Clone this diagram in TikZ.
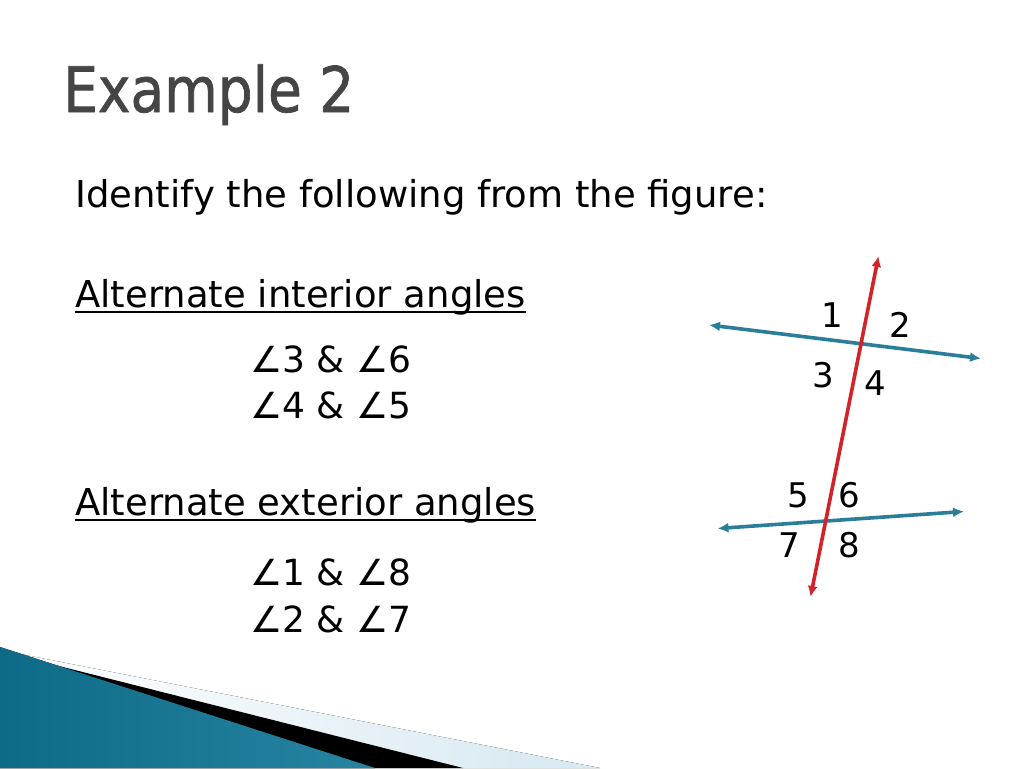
\documentclass[tikz,border=0pt]{standalone}
\usepackage{fontspec}
\setmainfont{DejaVu Sans}
\newfontfamily\titlefont[FakeBold=1.2]{DejaVu Sans}
\usepackage{tikz}
\usetikzlibrary{arrows.meta, positioning, calc}

\definecolor{transred}{HTML}{D2232A}
\definecolor{paralblue}{HTML}{2B7E99}
\definecolor{titlegray}{HTML}{454545}
\definecolor{swooshdark}{HTML}{0E6B88}
\definecolor{swooshlight}{HTML}{5FC0DE}
\definecolor{swooshpale}{HTML}{D6E8F1}

\begin{document}
\begin{tikzpicture}[
  x=1pt, y=-1pt,
  >={Latex[length=11pt, width=10pt]},
  title/.style={anchor=base west, inner sep=0pt, text=titlegray, font=\titlefont\fontsize{55}{60}\selectfont},
  bodytext/.style={anchor=base west, inner sep=0pt, font=\fontsize{37}{44}\selectfont},
  angletext/.style={anchor=base west, inner sep=0pt, font=\fontsize{36}{44}\selectfont},
  numlabel/.style={inner sep=0pt, font=\fontsize{34}{40}\selectfont},
  transversal/.style={<->, line width=3.6pt, transred},
  parallel/.style={<->, line width=3.6pt, paralblue},
  uline/.style={line width=2pt, black}
]
\useasboundingbox[fill=white] (0,0) rectangle (1024,768);

% swoosh in the lower left corner
\fill[left color=white, right color=swooshpale] (0,650) -- (600,768) -- (0,768) -- cycle;
\fill[black] (55,665) -- (463,768) -- (0,768) -- cycle;
\fill[left color=swooshdark, middle color=swooshlight, right color=swooshdark!70!swooshlight]
  (0,647) -- (375,768) -- (0,768) -- cycle;

% texts
\node[title] (Title) at (63,112) {\scalebox{1}[1.14]{Example 2}};
\node[bodytext] (Ident) at (75,207) {Identify the following from the figure:};

\node[bodytext] (HInt) at (75,307) {Alternate interior angles};
\draw[uline] ([yshift=-5pt]HInt.base west) -- ([yshift=-5pt]HInt.base east);
\node[angletext] (A36) at (250,372) {∠3 \& ∠6};
\node[angletext] (A45) at (250,418) {∠4 \& ∠5};

\node[bodytext] (HExt) at (75,515) {Alternate exterior angles};
\draw[uline] ([yshift=-5pt]HExt.base west) -- ([yshift=-5pt]HExt.base east);
\node[angletext] (A18) at (250,585) {∠1 \& ∠8};
\node[angletext] (A27) at (250,632) {∠2 \& ∠7};

% figure
\coordinate (TTop) at (878.5,256);
\coordinate (TBot) at (810.5,597);
\coordinate (UL) at (709,325);
\coordinate (UR) at (981,358.5);
\coordinate (LL) at (717.5,528.5);
\coordinate (LR) at (964,511.5);

\draw[parallel] (UL) -- (UR);
\draw[parallel] (LL) -- (LR);
\draw[transversal] (TBot) -- (TTop);

\node[numlabel] (N1) at (832.5,315) {1};
\node[numlabel] (N2) at (900,325) {2};
\node[numlabel] (N3) at (823,375) {3};
\node[numlabel] (N4) at (875,383) {4};
\node[numlabel] (N5) at (798,495) {5};
\node[numlabel] (N6) at (849.5,495) {6};
\node[numlabel] (N7) at (789.5,545) {7};
\node[numlabel] (N8) at (849.5,545) {8};
\end{tikzpicture}
\end{document}
